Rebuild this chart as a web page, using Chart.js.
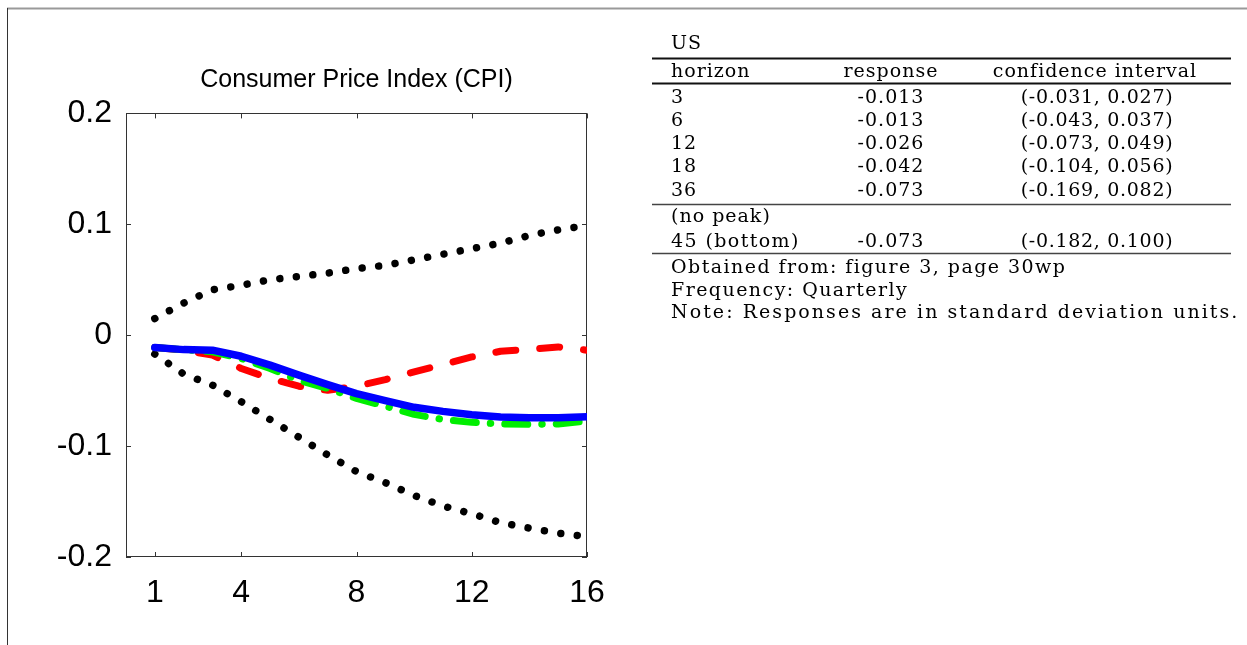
<!DOCTYPE html>
<html>
<head>
<meta charset="utf-8">
<script src="https://cdn.jsdelivr.net/npm/chart.js@4.4.1/dist/chart.umd.min.js"></script>
<style>
html, body { margin: 0; padding: 0; background: #fff; }
#wrap { position: relative; width: 1247px; height: 645px; overflow: hidden; }
#chart { position: absolute; left: 0; top: 0; }
#table { position: absolute; left: 0; top: 0; }
#table text { font-family: "DejaVu Serif", serif; font-size: 19px; letter-spacing: 1px; fill: #000; }
</style>
</head>
<body>
<div id="wrap">
  <canvas id="chart" width="640" height="645"></canvas>
  <svg id="table" width="1247" height="645" xmlns="http://www.w3.org/2000/svg"></svg>
</div>
<script>
// chart data
var horizons = [1, 2, 3, 4, 5, 6, 7, 8, 9, 10, 11, 12, 13, 14, 15, 16];
var upperBand = [0.015, 0.029, 0.041, 0.045, 0.050, 0.053, 0.056, 0.060, 0.063, 0.068, 0.073, 0.078, 0.083, 0.090, 0.095, 0.099];
var lowerBand = [-0.017, -0.035, -0.045, -0.060, -0.076, -0.092, -0.108, -0.123, -0.133, -0.1445, -0.154, -0.161, -0.169, -0.174, -0.1785, -0.1816];
var blueResponse = [-0.011, -0.013, -0.0135, -0.019, -0.027, -0.036, -0.0446, -0.0527, -0.059, -0.065, -0.0687, -0.0717, -0.0738, -0.0745, -0.0745, -0.0735];
var greenResponse = [-0.011, -0.013, -0.015, -0.021, -0.030, -0.0407, -0.048, -0.057, -0.064, -0.0714, -0.076, -0.0786, -0.080, -0.0804, -0.080, -0.0774];
var redResponse = [-0.011, -0.0135, -0.018, -0.030, -0.039, -0.046, -0.0497, -0.046, -0.040, -0.033, -0.0265, -0.0196, -0.0145, -0.0127, -0.0106, -0.0135];

var xTicks = [1, 4, 8, 12, 16];
var yTicks = [-0.2, -0.1, 0, 0.1, 0.2];
var yTickLabels = ['-0.2', '-0.1', '0', '0.1', '0.2'];
var chartTitle = 'Consumer Price Index (CPI)';

// table data
var tableCountry = 'US';
var tableHeader = ['horizon', 'response', 'confidence interval'];
var tableHorizons = ['3', '6', '12', '18', '36'];
var tableResponses = ['-0.013', '-0.013', '-0.026', '-0.042', '-0.073'];
var tableIntervals = ['(-0.031, 0.027)', '(-0.043, 0.037)', '(-0.073, 0.049)', '(-0.104, 0.056)', '(-0.169, 0.082)'];
var peakLabel = '(no peak)';
var bottomRow = ['45 (bottom)', '-0.073', '(-0.182, 0.100)'];
var tableNotes = ['Obtained from: figure 3, page 30wp', 'Frequency: Quarterly', 'Note: Responses are in standard deviation units.'];

function pairs(vals) {
  return horizons.map(function (h, i) { return { x: h, y: vals[i] }; });
}

// box round the plot with inward ticks on all four sides
var frame = {
  id: 'frame',
  beforeDatasetsDraw: function (chart) {
    var a = chart.chartArea, ctx = chart.ctx;
    var xs = chart.scales.x, ys = chart.scales.y;
    ctx.save();
    ctx.strokeStyle = '#333';
    ctx.lineWidth = 1;
    ctx.strokeRect(Math.round(a.left) + 0.5, Math.round(a.top) + 0.5,
      Math.round(a.right - a.left) - 1, Math.round(a.bottom - a.top) - 1);
    ctx.beginPath();
    xTicks.forEach(function (v) {
      var px = Math.round(xs.getPixelForValue(v)) + 0.5;
      ctx.moveTo(px, a.bottom); ctx.lineTo(px, a.bottom - 5);
      ctx.moveTo(px, a.top); ctx.lineTo(px, a.top + 5);
    });
    yTicks.forEach(function (v) {
      var py = Math.round(ys.getPixelForValue(v)) + 0.5;
      ctx.moveTo(a.left, py); ctx.lineTo(a.left + 5, py);
      ctx.moveTo(a.right, py); ctx.lineTo(a.right - 5, py);
    });
    ctx.stroke();
    ctx.restore();
  }
};

var common = { pointRadius: 0, tension: 0, fill: false, borderCapStyle: 'round', borderJoinStyle: 'round' };

new Chart(document.getElementById('chart'), {
  type: 'line',
  data: {
    datasets: [
      Object.assign({ data: pairs(blueResponse), borderColor: '#0000ff', borderWidth: 7.5 }, common),
      Object.assign({ data: pairs(greenResponse), borderColor: '#00ee00', borderWidth: 7, borderDash: [23, 14, 0.5, 14] }, common),
      Object.assign({ data: pairs(redResponse), borderColor: '#ff0000', borderWidth: 7, borderDash: [20, 24] }, common),
      Object.assign({ data: pairs(upperBand), borderColor: '#000', borderWidth: 7.5, borderDash: [0.001, 16.6] }, common),
      Object.assign({ data: pairs(lowerBand), borderColor: '#000', borderWidth: 7.5, borderDash: [0.001, 16.6] }, common)
    ]
  },
  options: {
    responsive: false,
    animation: false,
    layout: { padding: { left: 0, right: 53, top: 0, bottom: 0 } },
    plugins: {
      legend: { display: false },
      tooltip: { enabled: false },
      title: {
        display: true,
        text: chartTitle,
        fullSize: false,
        color: '#000',
        font: { family: '"Liberation Sans", Arial, sans-serif', size: 25, weight: 'normal' },
        padding: { top: 65, bottom: 18.4 }
      }
    },
    scales: {
      x: {
        type: 'linear',
        min: 0,
        max: 16,
        grid: { display: false, drawTicks: false },
        border: { display: false },
        afterBuildTicks: function (s) { s.ticks = xTicks.map(function (v) { return { value: v }; }); },
        afterFit: function (s) { s.height = 88; },
        ticks: {
          padding: 17,
          color: '#000',
          maxRotation: 0,
          autoSkip: false,
          font: { family: '"Liberation Sans", Arial, sans-serif', size: 32 },
          callback: function (v) { return String(v); }
        }
      },
      y: {
        min: -0.2,
        max: 0.2,
        grid: { display: false, drawTicks: false },
        border: { display: false },
        afterBuildTicks: function (s) { s.ticks = yTicks.map(function (v) { return { value: v }; }); },
        afterFit: function (s) { s.width = 126; },
        ticks: {
          padding: 14,
          color: '#000',
          autoSkip: false,
          font: { family: '"Liberation Sans", Arial, sans-serif', size: 32 },
          callback: function (v, i) { return yTickLabels[i]; }
        }
      }
    }
  },
  plugins: [frame]
});

// table on the right, plus the page edge lines
var svg = document.getElementById('table');
var NS = 'http://www.w3.org/2000/svg';
function line(x1, y1, x2, y2, color, w) {
  var l = document.createElementNS(NS, 'line');
  l.setAttribute('x1', x1); l.setAttribute('y1', y1);
  l.setAttribute('x2', x2); l.setAttribute('y2', y2);
  l.setAttribute('stroke', color); l.setAttribute('stroke-width', w);
  svg.appendChild(l);
}
function text(str, x, y, anchor, spacing) {
  var t = document.createElementNS(NS, 'text');
  t.setAttribute('x', x); t.setAttribute('y', y);
  t.setAttribute('text-anchor', anchor || 'start');
  if (spacing) t.style.letterSpacing = spacing + 'px';
  t.textContent = str;
  svg.appendChild(t);
}

line(7, 8.5, 1247, 8.5, '#999', 2);
line(7.5, 8, 7.5, 645, '#333', 1);

var colL = 671, colR = 891, colC = 1097;
text(tableCountry, colL, 49);
line(652, 58.5, 1231, 58.5, '#111', 2);
text(tableHeader[0], colL, 77);
text(tableHeader[1], colR, 77, 'middle');
text(tableHeader[2], colC - 2, 77, 'middle');
line(652, 83.5, 1231, 83.5, '#111', 2);
tableHorizons.forEach(function (h, i) {
  var y = 102.5 + i * 23.3;
  text(h, colL, y);
  text(tableResponses[i], colR, y, 'middle');
  text(tableIntervals[i], colC, y, 'middle', 0.7);
});
line(652, 204.5, 1231, 204.5, '#444', 1.6);
text(peakLabel, colL, 222);
text(bottomRow[0], colL, 247, 'start', 1.4);
text(bottomRow[1], colR, 247, 'middle');
text(bottomRow[2], colC, 247, 'middle', 0.7);
line(652, 253.5, 1231, 253.5, '#444', 1.6);
var noteSpacing = [1.45, 1.45, 2.05];
tableNotes.forEach(function (n, i) {
  text(n, colL, 273 + i * 22.5, 'start', noteSpacing[i]);
});
</script>
</body>
</html>
